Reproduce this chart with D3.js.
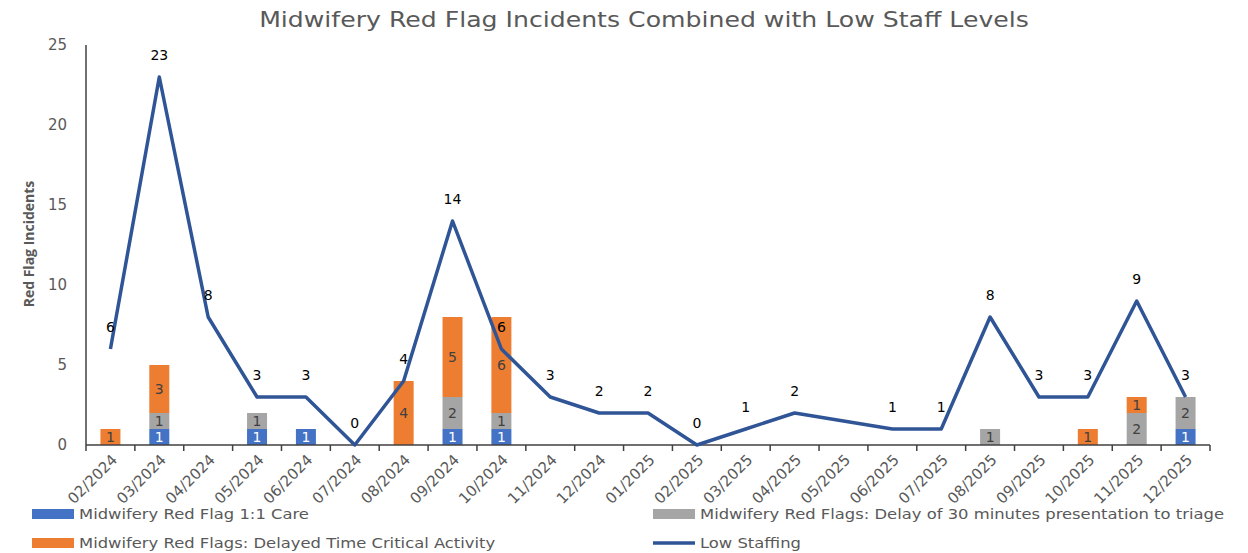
<!DOCTYPE html>
<html lang="en">
  <head>
    <meta charset="UTF-8" />
    <title>Midwifery Red Flag Incidents</title>
    <script src="https://d3js.org/d3.v7.min.js"></script>
    <style>
      body { margin: 0; background: #fff; }
      text { font-family: "DejaVu Sans", sans-serif; }
    </style>
  </head>
  <body>
    <div id="chart"></div>
    <script>
      const months = ['02/2024', '03/2024', '04/2024', '05/2024', '06/2024', '07/2024', '08/2024',
        '09/2024', '10/2024', '11/2024', '12/2024', '01/2025', '02/2025', '03/2025', '04/2025',
        '05/2025', '06/2025', '07/2025', '08/2025', '09/2025', '10/2025', '11/2025', '12/2025'];
      const oneToOne = [0, 1, 0, 1, 1, 0, 0, 1, 1, 0, 0, 0, 0, 0, 0, 0, 0, 0, 0, 0, 0, 0, 1];
      const delayTriage = [0, 1, 0, 1, 0, 0, 0, 2, 1, 0, 0, 0, 0, 0, 0, 0, 0, 0, 1, 0, 0, 2, 2];
      const delayedCritical = [1, 3, 0, 0, 0, 0, 4, 5, 6, 0, 0, 0, 0, 0, 0, 0, 0, 0, 0, 0, 1, 1, 0];
      const lowStaffing = [6, 23, 8, 3, 3, 0, 4, 14, 6, 3, 2, 2, 0, 1, 2, null, 1, 1, 8, 3, 3, 9, 3];
      const yTicks = [0, 5, 10, 15, 20, 25];

      const W = 1248, H = 553;
      const plotLeft = 86, plotRight = 1210, plotTop = 45, plotBottom = 445;
      // the source picture is stretched sideways, so text is widened a little
      const stretch = 1.17;

      const svg = d3.select('#chart').append('svg').attr('width', W).attr('height', H);

      const x = d3.scaleBand().domain(months).range([plotLeft, plotRight]);
      const y = d3.scaleLinear().domain([0, 25]).range([plotBottom, plotTop]);

      function widen(sel) {
        sel.each(function () {
          const len = this.getComputedTextLength();
          d3.select(this).attr('textLength', len * stretch).attr('lengthAdjust', 'spacingAndGlyphs');
        });
      }

      // title
      svg.append('text')
        .attr('x', 644).attr('y', 27)
        .attr('text-anchor', 'middle')
        .style('font-size', '21.5px').style('fill', '#595959')
        .text('Midwifery Red Flag Incidents Combined with Low Staff Levels')
        .call(widen);

      // y axis
      svg.append('line')
        .attr('x1', plotLeft).attr('x2', plotLeft).attr('y1', plotTop).attr('y2', plotBottom)
        .style('stroke', '#404040').style('stroke-width', 1.5);
      svg.selectAll('.ytick').data(yTicks).enter().append('text')
        .attr('x', 67).attr('y', (d) => y(d) + 5)
        .attr('text-anchor', 'end')
        .style('font-size', '15px').style('fill', '#595959')
        .text((d) => d);
      svg.append('text')
        .attr('transform', `translate(34,244) rotate(-90)`)
        .attr('text-anchor', 'middle')
        .style('font-family', '"Open Sans", sans-serif')
        .style('font-size', '14px').style('font-weight', 'bold').style('fill', '#595959')
        .text('Red Flag Incidents');

      // stacked bars
      const keys = ['oneToOne', 'delayTriage', 'delayedCritical'];
      const colors = { oneToOne: '#4472C4', delayTriage: '#A5A5A5', delayedCritical: '#ED7D31' };
      const textColors = { oneToOne: '#ffffff', delayTriage: '#404040', delayedCritical: '#404040' };
      const rows = months.map((m, i) => ({
        month: m, oneToOne: oneToOne[i], delayTriage: delayTriage[i], delayedCritical: delayedCritical[i]
      }));
      const layers = d3.stack().keys(keys)(rows);
      const bw = 20;

      layers.forEach((layer) => {
        const g = svg.append('g');
        const segs = layer.filter((d) => d[1] - d[0] > 0);
        g.selectAll('rect').data(segs).enter().append('rect')
          .attr('x', (d) => x(d.data.month) + x.bandwidth() / 2 - bw / 2)
          .attr('width', bw)
          .attr('y', (d) => y(d[1]))
          .attr('height', (d) => y(d[0]) - y(d[1]))
          .style('fill', colors[layer.key]);
        g.selectAll('text').data(segs).enter().append('text')
          .attr('x', (d) => x(d.data.month) + x.bandwidth() / 2)
          .attr('y', (d) => (y(d[0]) + y(d[1])) / 2 + 5)
          .attr('text-anchor', 'middle')
          .style('font-size', '14px').style('fill', textColors[layer.key])
          .text((d) => d[1] - d[0]);
      });

      // x axis
      svg.append('line')
        .attr('x1', plotLeft).attr('x2', plotRight).attr('y1', plotBottom).attr('y2', plotBottom)
        .style('stroke', '#404040').style('stroke-width', 1.5);
      const bounds = months.map((m) => x(m)).concat([plotRight]);
      svg.selectAll('.xtick').data(bounds).enter().append('line')
        .attr('x1', (d) => d).attr('x2', (d) => d)
        .attr('y1', plotBottom).attr('y2', plotBottom + 6)
        .style('stroke', '#404040').style('stroke-width', 1.5);
      svg.selectAll('.xlabel').data(months).enter().append('text')
        .attr('transform', (d) => `translate(${x(d) + x.bandwidth() / 2 + 4},${plotBottom + 12}) rotate(-45)`)
        .attr('text-anchor', 'end')
        .attr('dy', '0.35em')
        .style('font-size', '15px').style('fill', '#595959')
        .text((d) => d);

      // line
      const pts = months.map((m, i) => ({ month: m, v: lowStaffing[i] })).filter((d) => d.v !== null);
      const line = d3.line()
        .x((d) => x(d.month) + x.bandwidth() / 2)
        .y((d) => y(d.v));
      svg.append('path')
        .datum(pts)
        .attr('d', line)
        .style('fill', 'none')
        .style('stroke', '#2F5597')
        .style('stroke-width', 3.5)
        .style('stroke-linejoin', 'round');
      svg.selectAll('.linelabel').data(pts).enter().append('text')
        .attr('x', (d) => x(d.month) + x.bandwidth() / 2)
        .attr('y', (d) => y(d.v) - 17)
        .attr('text-anchor', 'middle')
        .style('font-size', '14px').style('fill', '#000')
        .text((d) => d.v);

      // legend
      const legend = [
        { label: 'Midwifery Red Flag 1:1 Care', color: colors.oneToOne, x: 32, y: 514, type: 'rect' },
        { label: 'Midwifery Red Flags: Delay of 30 minutes presentation to triage', color: colors.delayTriage, x: 653, y: 514, type: 'rect' },
        { label: 'Midwifery Red Flags: Delayed Time Critical Activity', color: colors.delayedCritical, x: 32, y: 543, type: 'rect' },
        { label: 'Low Staffing', color: '#2F5597', x: 653, y: 543, type: 'line' }
      ];
      legend.forEach((l) => {
        if (l.type === 'rect') {
          svg.append('rect').attr('x', l.x).attr('y', l.y - 5).attr('width', 42).attr('height', 10)
            .style('fill', l.color);
        } else {
          svg.append('line').attr('x1', l.x).attr('x2', l.x + 42).attr('y1', l.y).attr('y2', l.y)
            .style('stroke', l.color).style('stroke-width', 3.5);
        }
        svg.append('text').attr('x', l.x + 47).attr('y', l.y + 5)
          .style('font-size', '14px').style('fill', '#595959')
          .text(l.label)
          .call(widen);
      });
    </script>
  </body>
</html>
